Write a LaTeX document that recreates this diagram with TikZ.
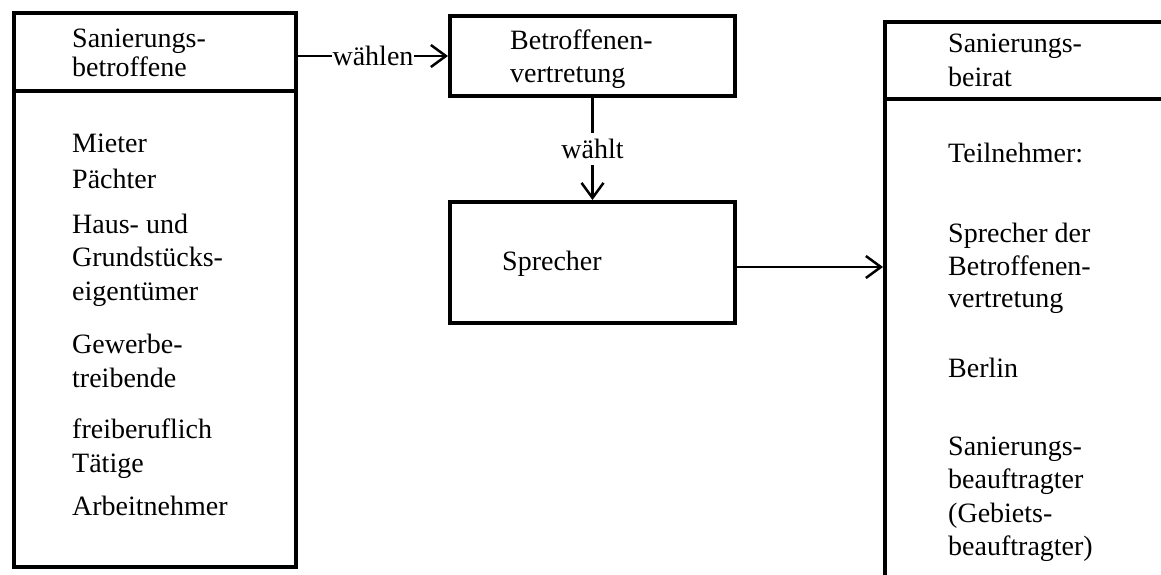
\documentclass[tikz,border=0pt]{standalone}
\usepackage{fontspec}
\setmainfont{Liberation Serif}
\usetikzlibrary{arrows.meta}
\begin{document}
\begin{tikzpicture}[x=1pt,y=-1pt,
  box/.style={draw, line width=4pt, inner sep=0pt},
  txt/.style={anchor=base west, inner sep=0pt, font=\fontsize{28}{33}\selectfont},
  conn/.style={line width=2.5pt, -{Straight Barb[length=15pt,width=22pt,line width=2.5pt]}},
  lbl/.style={fill=white, inner xsep=1pt, inner ysep=6pt, font=\fontsize{28}{33}\selectfont}]
\useasboundingbox (0,0) rectangle (1161,575);
\clip (0,0) rectangle (1161,575);
\fill[white] (0,0) rectangle (1161,575);
% boxes
\node[box, minimum width=282pt, minimum height=554pt] (lb) at (155,290) {};
\node[box, minimum width=285pt, minimum height=80pt] (bv) at (592.5,56) {};
\node[box, minimum width=285pt, minimum height=121pt] (sp) at (592.5,262.5) {};
\node[box, minimum width=315pt, minimum height=598pt] (rb) at (1042.5,321) {};
% dividers
\coordinate (ldiv) at (155,91);
\coordinate (rdiv) at (1042.5,99);
\draw[line width=4pt] (lb.west |- ldiv) -- (lb.east |- ldiv);
\draw[line width=4pt] (rb.west |- rdiv) -- (rb.east |- rdiv);
% left texts
\foreach \t/\y [count=\i] in {{Sanierungs-}/48,{betroffene}/77,{Mieter}/152,{Pächter}/188,{Haus- und}/233,{Grundstücks-}/266,{eigentümer}/300,{Gewerbe-}/353,{treibende}/387,{freiberuflich}/438,{Tätige}/472,{Arbeitnehmer}/515}
  \node[txt] (L\i) at (72,\y) {\t};
% middle texts
\node[txt] (B1) at (510,50) {Betroffenen-};
\node[txt] (B2) at (510,83) {vertretung};
\node[txt] (S1) at (502,270) {Sprecher};
% right texts
\foreach \t/\y [count=\i] in {{Sanierungs-}/53,{beirat}/87,{Teilnehmer:}/162,{Sprecher der}/242,{Betroffenen-}/275,{vertretung}/307,{Berlin}/377,{Sanierungs-}/455,{beauftragter}/488,{(Gebiets-}/522,{beauftragter)}/555}
  \node[txt] (R\i) at (948,\y) {\t};
% connectors
\draw[conn] (lb.east |- bv.west) -- node[lbl] (wl) {wählen} (bv.west);
\draw[conn] (bv.south) -- node[lbl] (wt) {wählt} (sp.north);
\coordinate (spout) at (735,267);
\draw[conn] (spout) -- (spout -| rb.west);
\end{tikzpicture}
\end{document}
